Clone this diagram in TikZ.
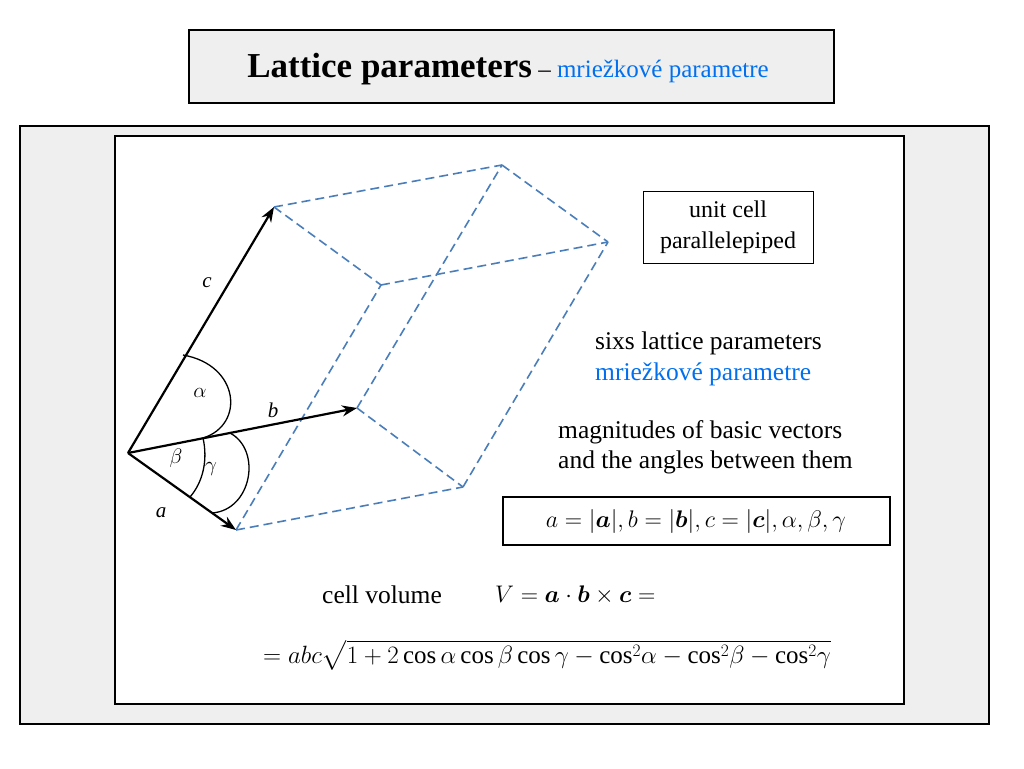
\documentclass[tikz,border=0pt]{standalone}
\usepackage{amsmath,bm}
\usepackage{fix-cm}
\usepackage{fontspec}
\setmainfont{Liberation Serif}
\usetikzlibrary{arrows.meta}
\definecolor{dblue}{HTML}{4A7EBB}
\definecolor{tblue}{HTML}{0070F0}
\definecolor{pane}{HTML}{EFEFEF}
\begin{document}
\begin{tikzpicture}[x=1pt,y=-1pt,
  dline/.style={dblue,line width=1.6pt,dash pattern=on 9pt off 5pt},
  vec/.style={line width=2.2pt,-{Stealth[length=15pt,width=11pt]}},
  arcl/.style={line width=1.3pt},
  txt/.style={font=\fontsize{25.5}{30}\selectfont,inner sep=0pt},
  lbl/.style={font=\fontsize{21}{24}\selectfont\itshape,inner sep=0pt}]
\useasboundingbox (0,0) rectangle (1024,768);
\draw[line width=2pt,fill=pane] (189,30) rectangle (834,103);
\node[inner sep=0pt] (title) at (508,69) {\fontsize{35}{40}\selectfont\textbf{Lattice parameters}\fontsize{25}{30}\selectfont{} – \textcolor{tblue}{mriežkové parametre}};
\draw[line width=1.2pt,fill=pane] (20,126) rectangle (989,724);
\draw[line width=1.2pt,fill=white] (115,136) rectangle (904,704);
% points
\coordinate (O) at (128,453);
\coordinate (C) at (274,207);
\coordinate (B) at (357,408);
\coordinate (A) at (236,530);
\coordinate (AB) at (463,487);
\coordinate (CB) at (502,165);
\coordinate (CA) at (381,285);
\coordinate (CAB) at (608,242);
\draw[dline] (A) -- (AB);
\draw[dline] (B) -- (AB);
\draw[dline] (C) -- (CB);
\draw[dline] (C) -- (CA);
\draw[dline] (A) -- (CA);
\draw[dline] (CA) -- (CAB);
\draw[dline] (CB) -- (CAB);
\draw[dline] (AB) -- (CAB);
\draw[dline] (B) -- (CB);
\draw[vec] (O) -- (C);
\draw[vec] (O) -- (B);
\draw[vec] (O) -- (A);
% angle arcs
\draw[arcl] (183,355) .. controls (240,365) and (245,425) .. (203,438);
\draw[arcl] (203,438) .. controls (208,460) and (203,482) .. (190,497);
\draw[arcl] (230,433) .. controls (262,450) and (252,510) .. (212,513);
\node[lbl] (lc) at (207,283) {c};
\node[lbl] (lal) at (200,393) {$\alpha$};
\node[lbl] (lb) at (273,410) {b};
\node[lbl] (lbe) at (176,458) {$\beta$};
\node[lbl] (lga) at (211,469) {$\gamma$};
\node[lbl] (la) at (161,513) {a};
\node[draw,line width=0.8pt,minimum width=170pt,minimum height=72pt,align=center,font=\fontsize{24}{31}\selectfont] (uc) at (728,227) {unit cell\\parallelepiped};
\node[txt,anchor=west] (s1) at (595,343) {sixs lattice parameters};
\node[txt,anchor=west,text=tblue] (s2) at (595,374) {mriežkové parametre};
\node[txt,anchor=west] (m1) at (558,432) {magnitudes of basic vectors};
\node[txt,anchor=west] (m2) at (558,462) {and the angles between them};
\node[draw,line width=2pt,minimum width=387pt,minimum height=48pt,font=\fontsize{24}{28}\selectfont] (f1) at (696,521) {$a=|\bm a|,b=|\bm b|,c=|\bm c|,\alpha,\beta,\gamma$};
\node[txt,anchor=west] (cv) at (322,595) {cell volume};
\node[txt,anchor=west,font=\fontsize{24}{28}\selectfont] (f2) at (495,595) {$V=\bm a\cdot\bm b\times\bm c=$};
\node[txt,anchor=west,font=\fontsize{25}{30}\selectfont] (f3) at (263,655) {$=abc\sqrt{1+2\cos\alpha\cos\beta\cos\gamma-\cos^2\!\alpha-\cos^2\!\beta-\cos^2\!\gamma}$};
\end{tikzpicture}
\end{document}
